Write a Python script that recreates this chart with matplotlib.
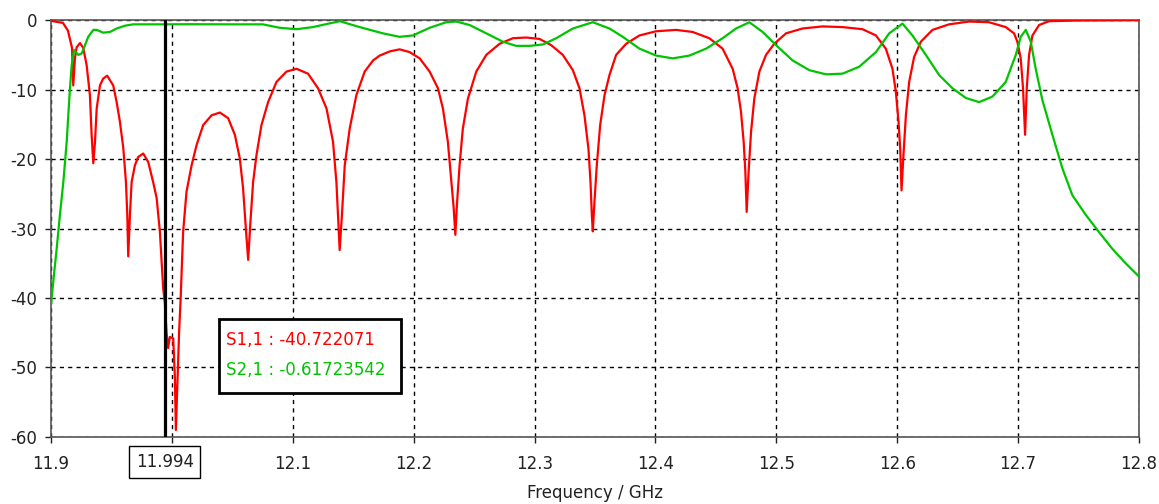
import matplotlib
matplotlib.use("Agg")
import matplotlib.pyplot as plt
from matplotlib.patches import Rectangle

plt.rcParams['font.family'] = ['DejaVu Sans']
plt.rcParams['axes.unicode_minus'] = False

# S1,1 trace (frequency in GHz, magnitude in dB)
s11_freq = [11.9000, 11.9099, 11.9140, 11.9174, 11.9184, 11.9198, 11.9212, 11.9240,
            11.9267, 11.9295, 11.9322, 11.9336, 11.9350, 11.9364, 11.9378, 11.9405,
            11.9432, 11.9465, 11.9515, 11.9543, 11.9570, 11.9598, 11.9620, 11.9631,
            11.9639, 11.9653, 11.9667, 11.9694, 11.9721, 11.9763, 11.9804, 11.9845,
            11.9874, 11.9901, 11.9928, 11.9942, 11.9956, 11.9969, 11.9983, 12.0011,
            12.0025, 12.0033, 12.0047, 12.0060, 12.0072, 12.0093, 12.0121, 12.0163,
            12.0204, 12.0259, 12.0328, 12.0397, 12.0465, 12.0521, 12.0562, 12.0589,
            12.0612, 12.0631, 12.0650, 12.0672, 12.0700, 12.0741, 12.0796, 12.0865,
            12.0948, 12.1031, 12.1126, 12.1209, 12.1279, 12.1333, 12.1361, 12.1374,
            12.1388, 12.1407, 12.1430, 12.1471, 12.1526, 12.1595, 12.1664, 12.1719,
            12.1802, 12.1884, 12.1967, 12.2050, 12.2132, 12.2201, 12.2242, 12.2283,
            12.2312, 12.2331, 12.2345, 12.2358, 12.2380, 12.2407, 12.2449, 12.2518,
            12.2601, 12.2711, 12.2821, 12.2931, 12.3041, 12.3138, 12.3234, 12.3317,
            12.3372, 12.3413, 12.3446, 12.3463, 12.3474, 12.3482, 12.3496, 12.3515,
            12.3543, 12.3579, 12.3620, 12.3675, 12.3758, 12.3868, 12.4006, 12.4171,
            12.4308, 12.4446, 12.4556, 12.4639, 12.4680, 12.4708, 12.4730, 12.4744,
            12.4755, 12.4771, 12.4791, 12.4818, 12.4860, 12.4915, 12.4983, 12.5080,
            12.5217, 12.5383, 12.5548, 12.5713, 12.5824, 12.5906, 12.5961, 12.5989,
            12.6011, 12.6025, 12.6036, 12.6052, 12.6072, 12.6099, 12.6140, 12.6196,
            12.6292, 12.6430, 12.6595, 12.6760, 12.6898, 12.6967, 12.6994, 12.7022,
            12.7041, 12.7058, 12.7072, 12.7091, 12.7119, 12.7174, 12.7256, 12.7504,
            12.8000]
s11_db = [-0.1, -0.4, -1.5, -4.0, -9.4, -5.5, -3.9, -3.3,
          -4.0, -6.5, -10.8, -16.5, -20.6, -17.5, -12.7, -9.4,
          -8.4, -8.0, -9.4, -11.8, -14.6, -18.4, -23.3, -28.0,
          -34.0, -28.0, -23.3, -20.9, -19.7, -19.2, -20.4, -23.3,
          -25.6, -30.5, -38.6, -40.7, -45.0, -47.2, -45.6, -45.8,
          -51.5, -59.0, -51.5, -44.8, -40.3, -30.5, -24.7, -20.9,
          -18.0, -15.1, -13.7, -13.3, -14.1, -16.5, -19.9, -24.2,
          -30.0, -34.5, -29.0, -23.3, -19.4, -15.1, -11.8, -8.9,
          -7.4, -7.0, -7.7, -9.8, -12.7, -17.5, -23.3, -28.0,
          -33.1, -28.0, -20.9, -15.6, -10.8, -7.4, -5.8, -5.1,
          -4.5, -4.2, -4.6, -5.5, -7.4, -9.8, -12.7, -17.5,
          -23.3, -27.0, -30.9, -26.6, -20.9, -15.6, -11.3, -7.4,
          -5.0, -3.4, -2.6, -2.5, -2.7, -3.6, -5.0, -7.2,
          -9.8, -13.7, -18.5, -23.3, -28.0, -30.4, -26.1, -20.9,
          -15.1, -10.8, -7.9, -5.0, -3.4, -2.2, -1.6, -1.4,
          -1.7, -2.6, -4.1, -7.0, -9.8, -13.2, -17.5, -21.8,
          -27.6, -21.8, -16.1, -11.3, -7.4, -5.0, -3.4, -1.9,
          -1.2, -0.9, -1.0, -1.3, -2.2, -4.1, -7.0, -10.3,
          -14.6, -18.5, -24.5, -19.4, -13.7, -8.9, -5.3, -3.1,
          -1.4, -0.6, -0.2, -0.3, -1.0, -1.9, -3.1, -5.5,
          -9.8, -16.5, -9.8, -5.0, -2.2, -0.7, -0.15, -0.05,
          0.0]

# S2,1 trace
s21_freq = [11.9000, 11.9019, 11.9047, 11.9074, 11.9102, 11.9130, 11.9143, 11.9157,
            11.9171, 11.9190, 11.9226, 11.9254, 11.9281, 11.9308, 11.9350, 11.9378,
            11.9432, 11.9488, 11.9543, 11.9612, 11.9680, 11.9928, 12.0149, 12.0479,
            12.0752, 12.0893, 12.1031, 12.1165, 12.1388, 12.1554, 12.1746, 12.1884,
            12.1994, 12.2132, 12.2270, 12.2353, 12.2463, 12.2601, 12.2738, 12.2848,
            12.2959, 12.3069, 12.3179, 12.3317, 12.3482, 12.3620, 12.3730, 12.3868,
            12.4006, 12.4143, 12.4281, 12.4419, 12.4556, 12.4667, 12.4777, 12.4887,
            12.4998, 12.5135, 12.5273, 12.5411, 12.5548, 12.5686, 12.5824, 12.5934,
            12.6044, 12.6126, 12.6237, 12.6347, 12.6457, 12.6568, 12.6678, 12.6788,
            12.6898, 12.6981, 12.7022, 12.7064, 12.7105, 12.7146, 12.7201, 12.7284,
            12.7366, 12.7449, 12.7559, 12.7669, 12.7779, 12.7890, 12.8000]
s21_db = [-41.0, -37.6, -32.9, -28.0, -23.3, -17.5, -13.7, -9.8,
          -6.5, -4.3, -5.0, -4.8, -3.6, -2.4, -1.4, -1.4,
          -1.8, -1.7, -1.2, -0.8, -0.6, -0.6, -0.58, -0.6,
          -0.6, -1.1, -1.3, -1.0, -0.15, -1.0, -1.9, -2.4,
          -2.2, -1.1, -0.3, -0.2, -0.7, -1.9, -3.1, -3.7,
          -3.7, -3.5, -2.6, -1.2, -0.3, -1.2, -2.4, -4.1,
          -5.1, -5.5, -5.1, -4.1, -2.6, -1.2, -0.3, -1.7,
          -3.6, -5.8, -7.2, -7.8, -7.7, -6.7, -4.6, -1.9,
          -0.5, -2.2, -5.0, -7.9, -9.8, -11.2, -11.8, -11.0,
          -8.9, -5.0, -2.4, -1.4, -3.1, -7.0, -11.5, -16.5,
          -21.3, -25.2, -28.0, -30.5, -32.9, -35.0, -36.9]

x_ticks = [11.9, 12.0, 12.1, 12.2, 12.3, 12.4, 12.5, 12.6, 12.7, 12.8]
x_tick_labels = ['11.9', '', '12.1', '12.2', '12.3', '12.4', '12.5', '12.6', '12.7', '12.8']
y_ticks = [0, -10, -20, -30, -40, -50, -60]

marker_freq = 11.994
marker_label = '11.994'
marker_texts = ['S1,1 : -40.722071', 'S2,1 : -0.61723542']

red = '#ff0000'
green = '#00c400'

fig = plt.figure(figsize=(11.59, 5.04), dpi=100)
ax = fig.add_axes([0.044, 0.133, 0.9387, 0.827])
ax.set_axisbelow(True)

ax.plot(s11_freq, s11_db, color=red, lw=1.6, zorder=3)
ax.plot(s21_freq, s21_db, color=green, lw=1.6, zorder=4)

ax.set_xlim(11.9, 12.8)
ax.set_ylim(-60, 0)
ax.set_xticks(x_ticks)
ax.set_xticklabels(x_tick_labels)
ax.set_yticks(y_ticks)
ax.tick_params(direction='out', length=4, width=1, labelsize=12, colors='#222222')
ax.tick_params(axis='x', pad=9)
ax.tick_params(axis='y', pad=6)
ax.grid(True, color='black', linestyle=(0, (3, 3)), linewidth=1)
for side in ['left', 'bottom', 'top', 'right']:
    ax.spines[side].set_color('#555555')
    ax.spines[side].set_linewidth(1.2)

ax.set_xlabel('Frequency / GHz', fontsize=12, color='#222222', labelpad=8)

# marker line and its frequency box
ax.axvline(marker_freq, color='black', lw=2.3, zorder=5)
ax.text(marker_freq, -63.6, marker_label, ha='center', va='center', fontsize=12,
        color='#222222', clip_on=False,
        bbox=dict(boxstyle='square,pad=0.4', fc='white', ec='black', lw=1))

# marker readout box
ax.add_patch(Rectangle((12.0388, -53.7), 0.1504, 10.7, facecolor='white',
                       edgecolor='black', lw=2, zorder=6))
ax.text(12.0450, -46.0, marker_texts[0], color=red, fontsize=12, va='center', zorder=7)
ax.text(12.0450, -50.3, marker_texts[1], color=green, fontsize=12, va='center', zorder=7)

fig.savefig('out.png', dpi=100)
